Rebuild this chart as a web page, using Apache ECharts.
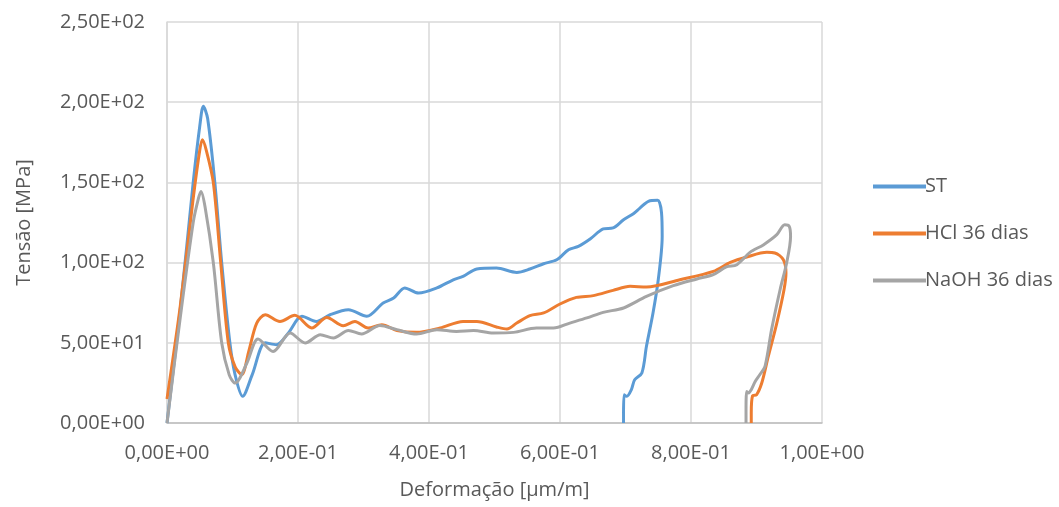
<!DOCTYPE html>
<html>
<head>
<meta charset="utf-8">
<script src="https://cdn.jsdelivr.net/npm/echarts@6/dist/echarts.min.js"></script>
<style>html,body{margin:0;padding:0;background:#fff}#c{width:1059px;height:507px}</style>
</head>
<body>
<div id="c"></div>
<script>
const seriesNames = ['ST', 'HCl 36 dias', 'NaOH 36 dias'];
const xTicks = [0, 0.2, 0.4, 0.6, 0.8, 1.0];
const yTicks = [0, 50, 100, 150, 200, 250];

const stX = [0, 0.02, 0.04, 0.05, 0.0555, 0.062, 0.073, 0.0835, 0.096, 0.104, 0.1155, 0.13, 0.150, 0.167, 0.185, 0.206, 0.228, 0.249, 0.277, 0.305, 0.330, 0.346, 0.363, 0.384, 0.412, 0.437, 0.452, 0.473, 0.503, 0.534, 0.554, 0.575, 0.595, 0.613, 0.628, 0.646, 0.666, 0.681, 0.697, 0.712, 0.722, 0.735, 0.749, 0.755, 0.756, 0.750, 0.742, 0.732, 0.725, 0.714, 0.709, 0.702, 0.698, 0.697, 0.697];
const stY = [0, 70, 150, 185, 197.4, 190, 150, 100, 50, 30, 16.6, 30, 50, 48.8, 56, 66.5, 63.3, 67.5, 70.6, 66.5, 74.8, 77.9, 84.2, 81, 84.2, 89.3, 91.4, 96, 96.6, 93.9, 96, 99.3, 101.8, 108, 110.1, 114.7, 121, 121.6, 126.7, 130.5, 134, 138.2, 138.8, 131, 116.3, 89.3, 68.6, 47.8, 31.2, 27, 20.8, 16.6, 17.6, 6.2, 0];

const hclX = [0, 0.02, 0.04, 0.05, 0.054, 0.060, 0.0707, 0.082, 0.0936, 0.104, 0.114, 0.125, 0.137, 0.150, 0.1725, 0.195, 0.221, 0.244, 0.269, 0.287, 0.307, 0.328, 0.351, 0.381, 0.417, 0.452, 0.473, 0.503, 0.519, 0.534, 0.554, 0.575, 0.600, 0.625, 0.651, 0.681, 0.707, 0.732, 0.783, 0.834, 0.860, 0.885, 0.916, 0.928, 0.941, 0.945, 0.942, 0.931, 0.918, 0.908, 0.900, 0.894, 0.892, 0.892];
const hclY = [15, 72, 140, 170, 176.6, 170, 150, 100, 50, 35, 30.1, 45, 62.3, 67.5, 63.3, 67.1, 59.2, 65.8, 60.7, 63.3, 59.2, 61.3, 57.7, 56.5, 59.2, 63.3, 63.3, 59.9, 58.6, 62.3, 66.9, 68.6, 74.2, 78.3, 79.4, 82.7, 85.2, 84.8, 89.3, 94.5, 100.1, 103.5, 106.4, 106, 101.8, 93.5, 83.1, 62.3, 41.5, 24.9, 17.6, 17, 6.2, 0];

const naohX = [0, 0.02, 0.04, 0.048, 0.0519, 0.058, 0.0707, 0.0835, 0.095, 0.104, 0.122, 0.139, 0.162, 0.188, 0.211, 0.234, 0.254, 0.277, 0.297, 0.325, 0.351, 0.381, 0.412, 0.442, 0.468, 0.498, 0.529, 0.564, 0.590, 0.615, 0.641, 0.666, 0.697, 0.732, 0.773, 0.809, 0.834, 0.854, 0.870, 0.890, 0.911, 0.931, 0.943, 0.950, 0.952, 0.946, 0.936, 0.923, 0.913, 0.905, 0.898, 0.892, 0.888, 0.885, 0.884, 0.884];
const naohY = [0, 65, 125, 140, 144.4, 135, 100, 50, 30, 24.9, 37.4, 52.4, 44.6, 56.1, 49.9, 55, 53, 57.7, 55.5, 60.8, 58.2, 55.5, 58.2, 57.1, 57.7, 56.1, 56.5, 59.2, 59.2, 62.3, 65.5, 69, 71.7, 78.9, 85.6, 89.8, 92.5, 97.3, 98.7, 106.4, 111.2, 117.4, 123.6, 122.6, 116.3, 99.8, 83.1, 58.2, 35.3, 30.1, 25.9, 20.8, 18.7, 19.7, 6.2, 0];

const colors = ['#5B9BD5', '#ED7D31', '#A5A5A5'];
const FONT = 'Open Sans';

function sci(v) {
  let s = Number(v).toExponential(2);
  let [m, e] = s.split('e');
  let sign = e[0] === '-' ? '-' : '+';
  let d = e.replace(/[+-]/, '');
  if (d.length < 2) d = '0' + d;
  return m.replace('.', ',') + 'E' + sign + d;
}
function zip(xs, ys) { return xs.map((x, i) => [x, ys[i]]); }

const chart = echarts.init(document.getElementById('c'));
const sets = [[stX, stY], [hclX, hclY], [naohX, naohY]];
chart.setOption({
  animation: false,
  textStyle: { fontFamily: FONT },
  grid: { left: 167, right: 237, top: 22, bottom: 84, containLabel: false },
  legend: {
    orient: 'vertical', left: 868, top: 168,
    itemWidth: 53, itemHeight: 4, itemGap: 20,
    icon: 'rect',
    textStyle: { fontFamily: FONT, fontSize: 20, color: '#595959', padding: [0, 0, 0, -6], lineHeight: 27 },
    data: seriesNames.map((n, i) => ({ name: n, itemStyle: { color: colors[i] } }))
  },
  xAxis: {
    type: 'value', min: 0, max: 1, interval: 0.2,
    name: 'Deformação [µm/m]', nameLocation: 'middle', nameGap: 57,
    nameTextStyle: { fontFamily: FONT, fontSize: 20, color: '#595959' },
    axisLine: { show: true, lineStyle: { color: '#bfbfbf', width: 1.5 } },
    axisTick: { show: false },
    axisLabel: { formatter: sci, fontFamily: FONT, fontSize: 20, color: '#595959', margin: 20 },
    splitLine: { show: true, lineStyle: { color: '#d9d9d9', width: 1.5 } }
  },
  yAxis: {
    type: 'value', min: 0, max: 250, interval: 50,
    name: 'Tensão [MPa]', nameLocation: 'middle', nameGap: 133,
    nameTextStyle: { fontFamily: FONT, fontSize: 20, color: '#595959' },
    axisLine: { show: true, lineStyle: { color: '#d9d9d9', width: 1.5 } },
    axisTick: { show: false },
    axisLabel: { formatter: sci, fontFamily: FONT, fontSize: 20, color: '#595959', margin: 22 },
    splitLine: { show: true, lineStyle: { color: '#d9d9d9', width: 1.5 } }
  },
  series: sets.map((s, i) => ({
    name: seriesNames[i], type: 'line', data: zip(s[0], s[1]),
    showSymbol: false, symbol: 'none', smooth: 0.3,
    lineStyle: { color: colors[i], width: 3 },
    itemStyle: { color: colors[i] }
  }))
});
</script>
</body>
</html>
